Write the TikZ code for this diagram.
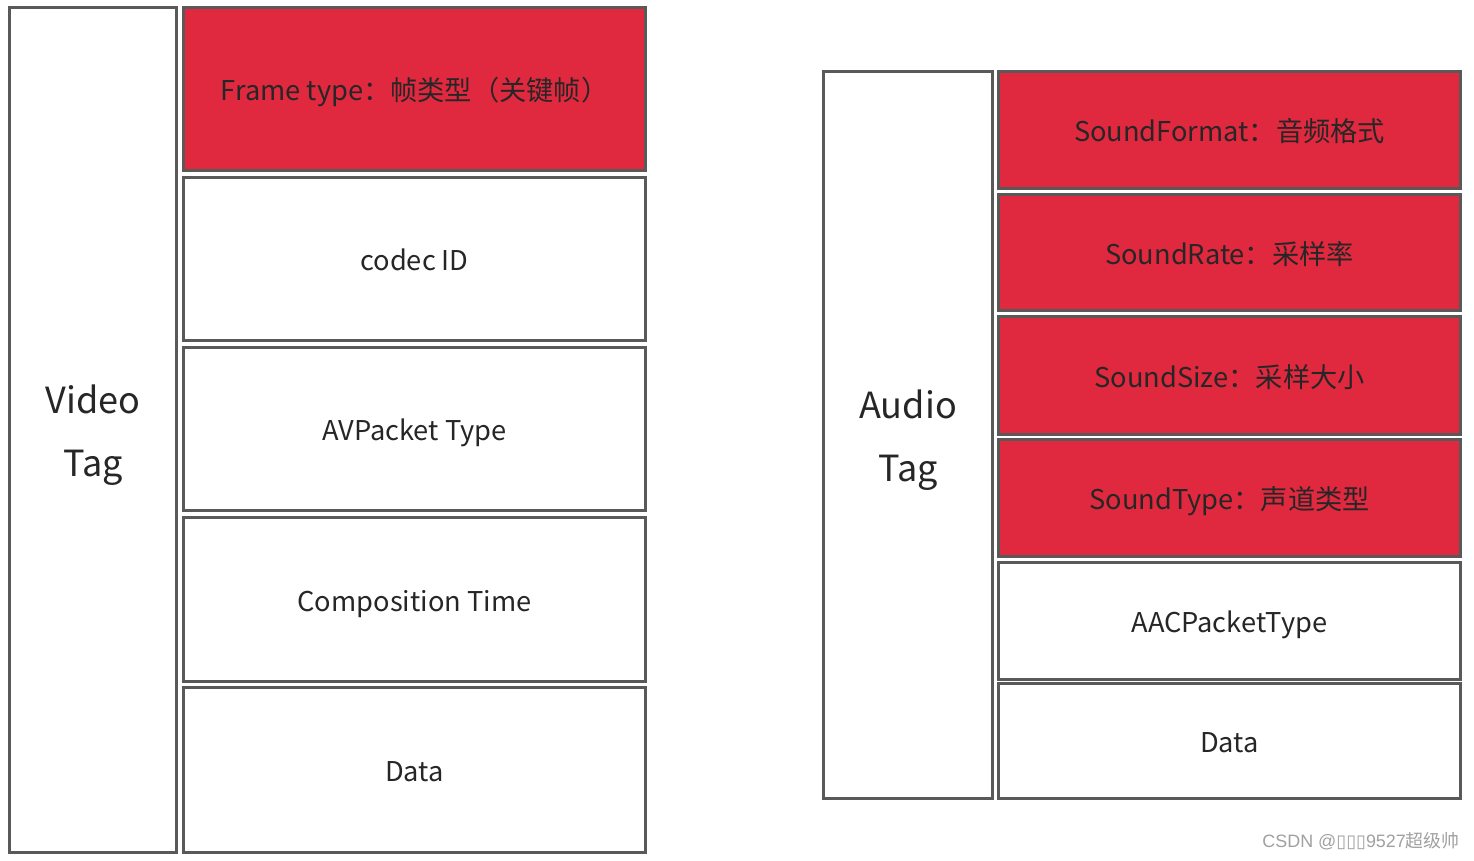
\documentclass[tikz,border=0pt]{standalone}
\usepackage{fontspec}
\usepackage{xcolor}
\setmainfont{Noto Sans CJK SC}
\newfontfamily\markfont{Liberation Sans}
\newfontfamily\boxfont{DejaVu Sans}
\definecolor{tagred}{HTML}{E0293F}
\definecolor{edgegray}{HTML}{595959}
\definecolor{ink}{HTML}{262626}
\definecolor{markgray}{HTML}{A0A0A0}

\begin{document}
\begin{tikzpicture}
        [x=0.02cm,y=-0.02cm,
         field/.style={draw=edgegray,line width=1.7pt,text=ink,inner sep=0pt,
           minimum width=9.24cm,text height=13.2pt,text depth=0pt,
           font=\fontsize{15.5}{18}\selectfont},
         keyfield/.style={field,fill=tagred},
         tagbox/.style={draw=edgegray,line width=1.7pt,inner sep=0pt},
         tagtext/.style={text=ink,inner sep=0pt,align=center,yshift=-0.1cm,
           font=\fontsize{20.5}{36}\selectfont}]

        \useasboundingbox (0,0) rectangle (1474,860);

        % video tag
        \node[tagbox,minimum width=3.34cm,minimum height=16.9cm,
          label={[tagtext]center:Video\\Tag}] (vtag) at (93,430) {};
        \node[keyfield,minimum height=3.26cm] (v1) at (414.5,89) {Frame type：帧类型（关键帧）};
        \node[field,minimum height=3.26cm] (v2) at (414.5,259) {codec ID};
        \node[field,minimum height=3.26cm] (v3) at (414.5,429) {AVPacket Type};
        \node[field,minimum height=3.28cm] (v4) at (414.5,599.5) {Composition Time};
        \node[field,minimum height=3.3cm] (v5) at (414.5,770) {Data};

        % audio tag
        \node[tagbox,minimum width=3.38cm,minimum height=14.54cm,
          label={[tagtext]center:Audio\\Tag}] (atag) at (908,435) {};
        \node[keyfield,minimum height=2.34cm] (a1) at (1229.5,130) {SoundFormat：音频格式};
        \node[keyfield,minimum height=2.32cm] (a2) at (1229.5,252.5) {SoundRate：采样率};
        \node[keyfield,minimum height=2.36cm] (a3) at (1229.5,375.5) {SoundSize：采样大小};
        \node[keyfield,minimum height=2.34cm] (a4) at (1229.5,498) {SoundType：声道类型};
        \node[field,minimum height=2.34cm] (a5) at (1229.5,621) {AACPacketType};
        \node[field,minimum height=2.3cm] (a6) at (1229.5,741) {Data};

        \node[anchor=east,text=markgray,inner sep=0pt,font=\markfont\fontsize{10.2}{12}\selectfont]
          (mark) at (1460,841) {CSDN @{\boxfont ▯▯▯}9527{\rmfamily 超级帅}};
    \end{tikzpicture}
\end{document}
